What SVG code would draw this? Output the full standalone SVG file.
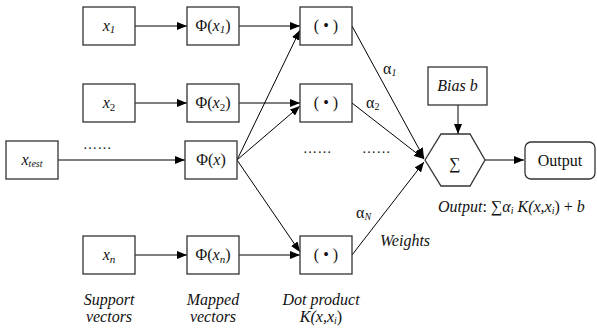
<svg xmlns="http://www.w3.org/2000/svg" width="597" height="328" viewBox="0 0 597 328" font-family="'Liberation Serif', 'DejaVu Serif', serif">
<style>
.box{fill:#fff;stroke:#333;stroke-width:1.3}
.ln{stroke:#000;stroke-width:1;fill:none;marker-end:url(#ah)}
text{font-family:'Liberation Serif','DejaVu Serif',serif;font-size:16px;fill:#111}
.c{text-anchor:middle}
.i{font-style:italic}
.dots{font-size:14px;letter-spacing:0.5px}
</style>
<defs>
<marker id="ah" viewBox="0 0 10 8" refX="10" refY="4" markerWidth="10" markerHeight="8" markerUnits="userSpaceOnUse" orient="auto">
<path d="M0,0 L10,4 L0,8 Z" fill="#000"/>
</marker>
</defs>
<g id="connectors">
<line class="ln" x1="135" y1="26" x2="187" y2="26"/>
<line class="ln" x1="135" y1="103" x2="187" y2="103"/>
<line class="ln" x1="58" y1="160" x2="185" y2="160"/>
<line class="ln" x1="135" y1="255" x2="187" y2="255"/>
<line class="ln" x1="239" y1="26" x2="300" y2="26"/>
<line class="ln" x1="239" y1="103" x2="300" y2="103"/>
<line class="ln" x1="239" y1="255" x2="300" y2="255"/>
<line class="ln" x1="237" y1="160" x2="300" y2="30"/>
<line class="ln" x1="237" y1="160" x2="300" y2="106"/>
<line class="ln" x1="237" y1="160" x2="300" y2="252"/>
<line class="ln" x1="352" y1="26" x2="424" y2="158"/>
<line class="ln" x1="352" y1="103" x2="424" y2="159"/>
<line class="ln" x1="352" y1="255" x2="424" y2="162"/>
<line class="ln" x1="458" y1="105" x2="458" y2="134"/>
<line class="ln" x1="485" y1="160" x2="524" y2="160"/>
</g>
<g id="x1"><rect class="box" x="83" y="7" width="52" height="38"/><text class="c i" x="109" y="31">x<tspan font-size="11" dy="2">1</tspan></text></g>
<g id="x2"><rect class="box" x="83" y="84" width="52" height="38"/><text class="c i" x="109" y="108">x<tspan font-size="11" font-style="normal" dy="3">2</tspan></text></g>
<g id="xtest"><rect class="box" x="6" y="141" width="52" height="38"/><text class="c i" x="32" y="165">x<tspan font-size="10" dy="2">test</tspan></text></g>
<g id="xn"><rect class="box" x="83" y="236" width="52" height="38"/><text class="c i" x="109" y="260">x<tspan font-size="11" dy="3">n</tspan></text></g>
<g id="phi1"><rect class="box" x="187" y="7" width="52" height="38"/><text class="c" x="213" y="31">Φ(<tspan class="i">x</tspan><tspan class="i" font-size="11" dy="2">1</tspan><tspan dy="-2">)</tspan></text></g>
<g id="phi2"><rect class="box" x="187" y="84" width="52" height="38"/><text class="c" x="213" y="108">Φ(<tspan class="i">x</tspan><tspan font-size="11" dy="3">2</tspan><tspan dy="-3">)</tspan></text></g>
<g id="phix"><rect class="box" x="185" y="141" width="52" height="38"/><text class="c" x="211" y="165">Φ(<tspan class="i">x</tspan>)</text></g>
<g id="phin"><rect class="box" x="187" y="236" width="52" height="38"/><text class="c" x="213" y="260">Φ(<tspan class="i">x</tspan><tspan class="i" font-size="11" dy="3">n</tspan><tspan dy="-3">)</tspan></text></g>
<g id="dot1"><rect class="box" x="300" y="7" width="52" height="38"/><text class="c" x="326" y="31">( • )</text></g>
<g id="dot2"><rect class="box" x="300" y="84" width="52" height="38"/><text class="c" x="326" y="108">( • )</text></g>
<g id="dotn"><rect class="box" x="300" y="236" width="52" height="38"/><text class="c" x="326" y="260">( • )</text></g>
<g id="bias"><rect class="box" x="428" y="67" width="59" height="38"/><text class="c i" x="457.5" y="91">Bias b</text></g>
<g id="sum"><polygon class="box" points="425,160 441,134 470,134 485,160 470,186 441,186"/><text class="c" x="455" y="169" font-size="24">∑</text></g>
<g id="output"><rect class="box" x="525" y="142" width="70" height="37" rx="6"/><text class="c" x="560" y="166">Output</text></g>
<g id="labels">
<text class="dots" x="83" y="149">……</text>
<text class="dots" x="303" y="153">……</text>
<text class="dots" x="362" y="153">……</text>
<text x="383" y="74">α<tspan class="i" font-size="10" dy="2">1</tspan></text>
<text x="366" y="108">α<tspan font-size="10" dy="2">2</tspan></text>
<text x="356" y="218">α<tspan class="i" font-size="10" dy="2">N</tspan></text>
<text class="i" x="380" y="246">Weights</text>
<text class="i" x="438" y="212">Output<tspan font-style="normal">: ∑</tspan>α<tspan font-size="10" dy="2">i</tspan><tspan dy="-2"> K(x,x</tspan><tspan font-size="10" dy="2">i</tspan><tspan font-style="normal" dy="-2">) + </tspan>b</text>
<text class="c i" x="109" y="305">Support</text>
<text class="c i" x="109" y="322">vectors</text>
<text class="c i" x="213" y="305">Mapped</text>
<text class="c i" x="213" y="322">vectors</text>
<text class="c i" x="321" y="305">Dot product</text>
<text class="c i" x="321" y="322">K(x,x<tspan font-size="10" dy="2">i</tspan><tspan font-style="normal" dy="-2">)</tspan></text>
</g>
</svg>
